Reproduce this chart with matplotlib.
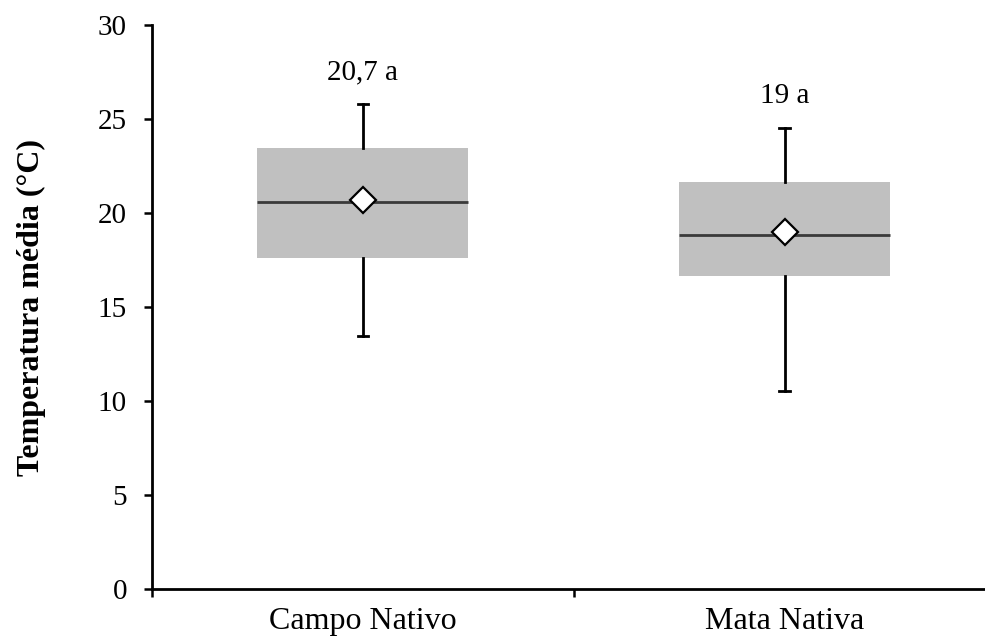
import matplotlib
matplotlib.use("Agg")
import matplotlib.pyplot as plt

# data
categories = ["Campo Nativo", "Mata Nativa"]
means = [20.7, 19.0]
medians = [20.6, 18.83]
q1 = [17.59, 16.65]
q3 = [23.44, 21.67]
whisker_low = [13.47, 10.55]
whisker_high = [25.8, 24.5]
mean_labels = ["20,7 a", "19 a"]

plt.rcParams['font.family'] = ['Liberation Serif', 'DejaVu Serif']

fig = plt.figure(figsize=(9.85, 6.41), dpi=100)
ax = fig.add_axes([152 / 985, 52 / 641, 833 / 985, 564 / 641])

stats = []
for i in range(len(categories)):
    stats.append({
        "label": categories[i],
        "mean": means[i],
        "med": medians[i],
        "q1": q1[i],
        "q3": q3[i],
        "whislo": whisker_low[i],
        "whishi": whisker_high[i],
        "fliers": [],
    })

positions = list(range(len(categories)))
ax.bxp(stats, positions=positions, widths=0.5, patch_artist=True,
       showmeans=True, showfliers=False, capwidths=0.026,
       boxprops=dict(facecolor="#c0c0c0", edgecolor="none", linewidth=0),
       medianprops=dict(color="#3a3a3a", linewidth=2.0),
       whiskerprops=dict(color="black", linewidth=2.0),
       capprops=dict(color="black", linewidth=2.0),
       meanprops=dict(marker="D", markersize=13.5, markerfacecolor="white",
                      markeredgecolor="black", markeredgewidth=1.6))

# labels above the upper whiskers
for x, top, txt in zip(positions, whisker_high, mean_labels):
    ax.annotate(txt, xy=(x, top), xytext=(0, 23), textcoords="offset points",
                ha="center", va="center", fontsize=21)

ax.set_xlim(-0.5, 1.474)
ax.set_ylim(0, 30)
ax.set_yticks(range(0, 31, 5))
ax.tick_params(axis="y", labelsize=21, length=6, width=1.8, pad=12, direction="out")
ax.set_xticks(positions)
ax.set_xticklabels(categories)
ax.tick_params(axis="x", which="major", labelsize=23, length=0, pad=13)
ax.set_xticks([-0.5, 0.5], minor=True)
ax.tick_params(axis="x", which="minor", length=6, width=1.8, direction="out")

for side in ["top", "right"]:
    ax.spines[side].set_visible(False)
for side in ["left", "bottom"]:
    ax.spines[side].set_linewidth(2.0)

ax.set_ylabel("Temperatura média (°C)", fontsize=23, fontweight="bold", labelpad=37)

fig.savefig("out.png", dpi=100)
